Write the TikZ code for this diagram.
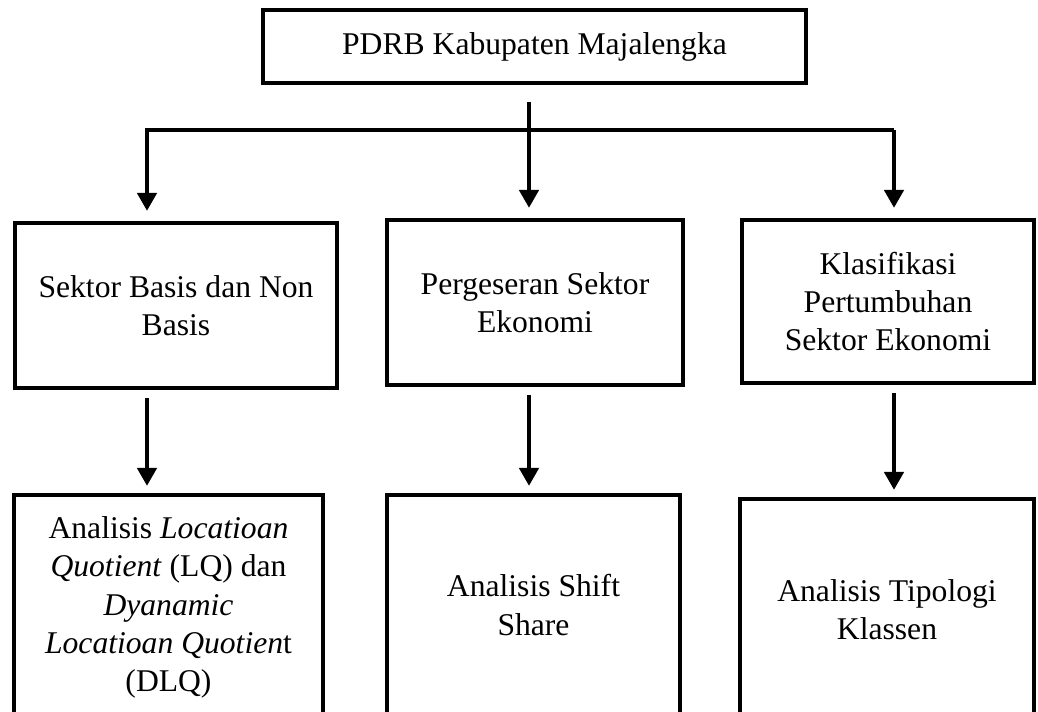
\documentclass[tikz,border=0pt]{standalone}
\usepackage{fontspec}
\setmainfont{Liberation Serif}
\usepackage{tikz}
\usetikzlibrary{arrows.meta,positioning,calc}

\begin{document}
\begin{tikzpicture}[
    x=0.02cm, y=-0.02cm,
    box/.style={rectangle, draw, line width=2.4pt, align=center, inner sep=0pt, font=\fontsize{18pt}{21.8pt}\selectfont},
    arrow/.style={-{Triangle[length=0.36cm,width=0.38cm]}, line width=2.8pt, shorten >=0.2cm},
    link/.style={line width=2.8pt}
]
    \useasboundingbox (0,0) rectangle (1038,712);

    \node[box, minimum width=10.86cm, minimum height=1.46cm] (pdrb) at (534.5,46.5) {PDRB Kabupaten Majalengka};

    \node[box, minimum width=6.44cm, minimum height=3.30cm] (basis) at (176,305.5) {Sektor Basis dan Non\\Basis};
    \node[box, minimum width=5.92cm, minimum height=3.30cm] (geser) at (535,302.5) {Pergeseran Sektor\\Ekonomi};
    \node[box, minimum width=5.84cm, minimum height=3.26cm] (klas) at (888,301.5) {Klasifikasi\\Pertumbuhan\\Sektor Ekonomi};

    \node[box, minimum width=6.18cm, minimum height=4.50cm] (lq) at (168.5,607.5) {Analisis \textit{Locatioan}\\\textit{Quotient} (LQ) dan\\\textit{Dyanamic}\\\textit{Locatioan Quotien}t\\(DLQ)};
    \node[box, minimum width=5.86cm, minimum height=4.40cm] (shift) at (533.5,605) {Analisis Shift\\Share};
    \node[box, minimum width=5.88cm, minimum height=4.44cm] (tipo) at (887,610) {Analisis Tipologi\\Klassen};

    % cabang dari PDRB
    \coordinate (split) at (529,102);
    \coordinate (hl) at (147,130);
    \coordinate (hr) at (894,130);

    \draw[arrow] (split) -- (split |- geser.north);
    \draw[arrow] (hr) -- (hl) -- (hl |- basis.north);
    \draw[arrow] (hr) -- (hr |- klas.north);

    \draw[arrow, shorten <=0.16cm, shorten >=0.14cm] (basis.south -| hl) -- (lq.north -| hl);
    \draw[arrow, shorten <=0.16cm, shorten >=0.14cm] (geser.south -| split) -- (shift.north -| split);
    \draw[arrow, shorten <=0.16cm, shorten >=0.14cm] (klas.south -| hr) -- (tipo.north -| hr);
\end{tikzpicture}
\end{document}
